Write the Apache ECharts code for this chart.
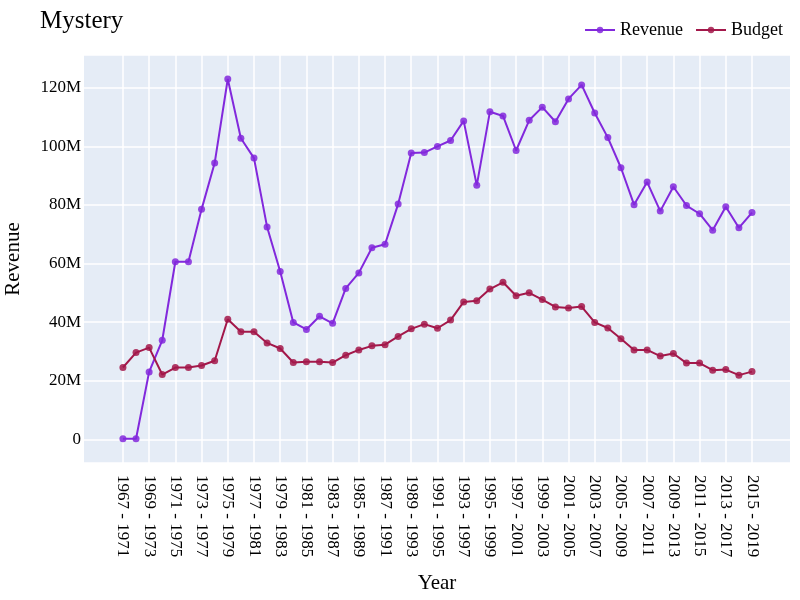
<!DOCTYPE html>
<html>
<head>
<meta charset="utf-8">
<script src="https://cdn.jsdelivr.net/npm/echarts@6/dist/echarts.min.js"></script>
<style>
  html, body { margin: 0; padding: 0; background: #fff; }
  #chart { width: 800px; height: 600px; }
</style>
</head>
<body>
<div id="chart"></div>
<script>
// 5 year windows, one per start year
const years = [];
for (let y = 1967; y <= 2015; y++) years.push(y + ' - ' + (y + 4));

// values in millions
const revenue = [
  0.2, 0.2, 23.0, 33.8, 60.6, 60.6, 78.5, 94.3, 123.0, 102.8,
  96.0, 72.5, 57.3, 39.9, 37.5, 42.0, 39.6, 51.5, 56.8, 65.4,
  66.6, 80.3, 97.7, 97.9, 100.0, 102.0, 108.7, 86.7, 111.8, 110.4,
  98.6, 108.9, 113.4, 108.4, 116.2, 121.0, 111.4, 103.0, 92.7, 80.1,
  87.8, 77.9, 86.2, 79.8, 77.0, 71.4, 79.4, 72.2, 77.4
];
const budget = [
  24.5, 29.6, 31.3, 22.1, 24.5, 24.5, 25.2, 26.8, 41.0, 36.7,
  36.7, 32.9, 31.0, 26.2, 26.5, 26.5, 26.2, 28.7, 30.5, 31.9,
  32.3, 35.1, 37.7, 39.3, 37.9, 40.7, 46.9, 47.3, 51.3, 53.6,
  49.0, 50.0, 47.7, 45.2, 44.8, 45.3, 39.9, 38.0, 34.3, 30.5,
  30.5, 28.4, 29.3, 26.0, 26.0, 23.6, 23.8, 21.9, 23.1
];

// every other window gets a label and a grid line
const tickIdx = years.map((_, i) => i).filter(i => i % 2 === 0);

const FONT = '"Liberation Serif", "Times New Roman", serif';

const chart = echarts.init(document.getElementById('chart'));

const lineSeries = (name, data, color) => ({
  name: name,
  type: 'line',
  data: data.map((v, i) => [i, v * 1e6]),
  symbol: 'circle',
  symbolSize: 7,
  itemStyle: { color: color, opacity: 0.85 },
  lineStyle: { color: color, width: 2 },
  emphasis: { disabled: true }
});

chart.setOption({
  animation: false,
  backgroundColor: '#fff',
  textStyle: { fontFamily: FONT, color: '#000' },
  title: {
    text: 'Mystery',
    left: 35,
    top: 4,
    textStyle: { fontFamily: FONT, fontSize: 25, fontWeight: 'normal', color: '#000' }
  },
  legend: {
    right: 12,
    top: 16,
    itemWidth: 30,
    itemHeight: 8,
    itemGap: 12,
    textStyle: { fontFamily: FONT, fontSize: 18, color: '#000' },
    data: ['Revenue', 'Budget']
  },
  grid: {
    left: 84,
    right: 10,
    top: 55,
    bottom: 137,
    outerBoundsMode: 'none',
    containLabel: false,
    show: true,
    backgroundColor: '#E5ECF6',
    borderWidth: 0
  },
  xAxis: {
    type: 'value',
    min: -2.97,
    max: 50.9,
    name: 'Year',
    nameLocation: 'middle',
    nameGap: 110,
    nameTextStyle: { fontFamily: FONT, fontSize: 21, color: '#000' },
    axisLine: { show: false },
    axisTick: { show: false, customValues: tickIdx },
    axisLabel: {
      customValues: tickIdx,
      rotate: -90,
      margin: 12,
      fontFamily: FONT,
      fontSize: 17,
      color: '#000',
      formatter: v => years[Math.round(v)] || ''
    },
    splitLine: {
      show: true,
      lineStyle: { color: '#fff', width: 1.5 }
    }
  },
  yAxis: {
    type: 'value',
    min: -8.1e6,
    max: 131.2e6,
    splitNumber: 6,
    name: 'Revenue',
    nameLocation: 'middle',
    nameGap: 60,
    nameRotate: 90,
    nameTextStyle: { fontFamily: FONT, fontSize: 21, color: '#000' },
    axisLine: { show: false },
    axisTick: { show: false },
    axisLabel: {
      showMinLabel: false,
      showMaxLabel: false,
      margin: 3,
      fontFamily: FONT,
      fontSize: 17,
      color: '#000',
      formatter: v => (v === 0 ? '0' : Math.round(v / 1e6) + 'M')
    },
    splitLine: { lineStyle: { color: '#fff', width: 1.5 } }
  },
  series: [
    lineSeries('Revenue', revenue, '#8228DC'),
    lineSeries('Budget', budget, '#A3184A')
  ]
});
</script>
</body>
</html>
